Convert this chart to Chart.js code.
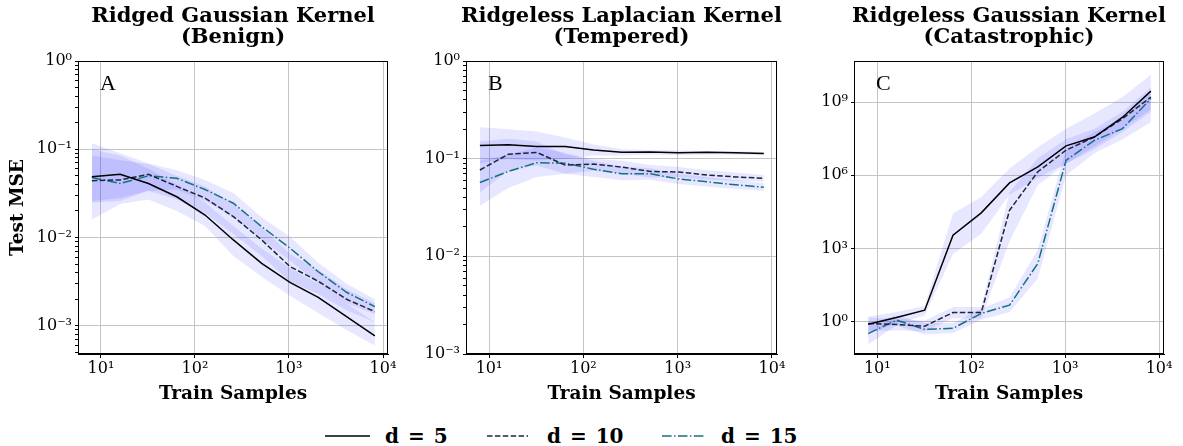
<!DOCTYPE html>
<html>
<head>
<meta charset="utf-8">
<script src="https://cdn.jsdelivr.net/npm/chart.js@4.4.1/dist/chart.umd.min.js"></script>
<style>
  body { margin: 0; background: #fff; }
  #fig { position: relative; width: 1183px; height: 446px; overflow: hidden; }
  #fig canvas { position: absolute; top: 0; }
  .leg { position: absolute; top: 424px; height: 24px; line-height: 24px; font: bold 20px "DejaVu Serif"; color: #000; white-space: nowrap; word-spacing: 2px; }
</style>
</head>
<body>
<div id="fig">
  <canvas id="panelA" width="400" height="410" style="left:0"></canvas>
  <canvas id="panelB" width="400" height="410" style="left:390px"></canvas>
  <canvas id="panelC" width="403" height="410" style="left:780px"></canvas>
  <div id="legend"></div>
</div>
<script>
const trainSamples = [8, 16, 32, 64, 128, 256, 512, 1024, 2048, 4096, 8192];
const dimLabels = ['d = 5', 'd = 10', 'd = 15'];
const lineColors = ['#000000', '#1b2836', '#16707f'];
const lineDashes = [[], [5.5, 2.4], [9.6, 2.4, 1.5, 2.4]];
const bandColor = 'rgba(40, 40, 255, 0.11)';
const xTicks = [10, 100, 1000, 10000];

// A: ridged gaussian (benign)
const ridgedD5 = [0.049, 0.052, 0.041, 0.029, 0.018, 0.0094, 0.0051, 0.0031, 0.0021, 0.00127, 0.00077];
const ridgedD10 = [0.044, 0.045, 0.052, 0.038, 0.028, 0.0173, 0.0094, 0.0047, 0.0032, 0.0020, 0.00145];
const ridgedD15 = [0.048, 0.041, 0.050, 0.047, 0.035, 0.0245, 0.0133, 0.0076, 0.0041, 0.0024, 0.00165];
const ridgedD5Lo = [0.016, 0.024, 0.027, 0.02, 0.0135, 0.0062, 0.0036, 0.0022, 0.0014, 0.0009, 0.0006];
const ridgedD5Hi = [0.10, 0.085, 0.06, 0.04, 0.025, 0.0135, 0.0075, 0.0045, 0.003, 0.0018, 0.0011];
const ridgedD10Lo = [0.026, 0.028, 0.034, 0.027, 0.019, 0.011, 0.0062, 0.0032, 0.0023, 0.0015, 0.0011];
const ridgedD10Hi = [0.085, 0.075, 0.068, 0.05, 0.038, 0.024, 0.013, 0.0065, 0.0043, 0.0026, 0.0018];
const ridgedD15Lo = [0.025, 0.026, 0.034, 0.035, 0.026, 0.017, 0.0095, 0.0055, 0.003, 0.0018, 0.00135];
const ridgedD15Hi = [0.117, 0.09, 0.069, 0.058, 0.045, 0.032, 0.017, 0.0102, 0.0052, 0.003, 0.002];

// B: ridgeless laplacian (tempered)
const laplaceD5 = [0.136, 0.139, 0.133, 0.133, 0.123, 0.116, 0.117, 0.115, 0.116, 0.115, 0.113];
const laplaceD10 = [0.0766, 0.111, 0.116, 0.086, 0.088, 0.082, 0.074, 0.073, 0.068, 0.065, 0.063];
const laplaceD15 = [0.057, 0.074, 0.091, 0.090, 0.078, 0.070, 0.070, 0.062, 0.058, 0.054, 0.051];
const laplaceD5Lo = [0.09, 0.1, 0.095, 0.1, 0.108, 0.108, 0.11, 0.109, 0.11, 0.11, 0.109];
const laplaceD5Hi = [0.21, 0.20, 0.19, 0.165, 0.14, 0.125, 0.123, 0.121, 0.12, 0.119, 0.117];
const laplaceD10Lo = [0.045, 0.075, 0.085, 0.07, 0.075, 0.07, 0.064, 0.065, 0.061, 0.059, 0.058];
const laplaceD10Hi = [0.15, 0.16, 0.15, 0.11, 0.1, 0.095, 0.086, 0.082, 0.076, 0.072, 0.068];
const laplaceD15Lo = [0.033, 0.05, 0.065, 0.07, 0.065, 0.06, 0.061, 0.055, 0.052, 0.049, 0.047];
const laplaceD15Hi = [0.095, 0.11, 0.13, 0.115, 0.095, 0.083, 0.08, 0.07, 0.065, 0.06, 0.056];

// C: ridgeless gaussian (catastrophic)
const gaussD5 = [0.8, 1.5, 3.0, 3500, 29000, 4.9e5, 2.2e6, 1.6e7, 3.7e7, 2.4e8, 2.8e9];
const gaussD10 = [0.85, 0.78, 0.66, 2.4, 2.4, 3.7e4, 1.4e6, 1.07e7, 3.7e7, 2.1e8, 1.6e9];
const gaussD15 = [0.33, 1.17, 0.49, 0.54, 2.2, 4.8, 245, 4.1e6, 2.7e7, 8.2e7, 1.4e9];
const gaussD5Lo = [0.35, 0.8, 1.8, 600, 4000, 1.6e5, 8e5, 3e6, 1.2e7, 6e7, 4e8];
const gaussD5Hi = [1.6, 2.5, 4.4, 2.7e4, 1.3e5, 1.9e6, 1.4e7, 8e7, 3.4e8, 1.6e9, 1.3e10];
const gaussD10Lo = [0.4, 0.45, 0.4, 1.4, 1.4, 2e3, 4e5, 3e6, 1.5e7, 8e7, 5e8];
const gaussD10Hi = [1.5, 1.3, 1.1, 4, 4, 2e5, 5e6, 3e7, 8e7, 4e8, 4e9];
const gaussD15Lo = [0.12, 0.7, 0.3, 0.35, 1.2, 2.5, 60, 1e6, 8e6, 3e7, 1.5e8];
const gaussD15Hi = [0.8, 1.8, 0.9, 0.9, 3.5, 10, 900, 1.2e7, 6e7, 2e8, 3e9];

const SUP = {'0':'⁰','1':'¹','2':'²','3':'³','4':'⁴','5':'⁵','6':'⁶','7':'⁷','8':'⁸','9':'⁹','-':'⁻'};
const isPow10 = v => Math.abs(Math.log10(v) - Math.round(Math.log10(v))) < 1e-6;
const fmtPow = v => '10' + String(Math.round(Math.log10(v))).split('').map(c => SUP[c]).join('');

function withMinor(lo, hi) {
  const out = [];
  for (let e = Math.floor(Math.log10(lo)); e <= Math.ceil(Math.log10(hi)); e++) {
    for (let m = 1; m < 10; m++) {
      const v = m * Math.pow(10, e);
      if (v >= lo * 0.999 && v <= hi * 1.001) out.push(v);
    }
  }
  return out;
}

const panelDecor = {
  id: 'panelDecor',
  afterDraw(chart, args, opts) {
    const { ctx, chartArea: a } = chart;
    ctx.save();
    ctx.strokeStyle = '#000';
    ctx.lineWidth = 1;
    ctx.strokeRect(a.left + 0.5, a.top + 0.5, a.right - a.left - 1, a.bottom - a.top - 1);
    ctx.fillStyle = '#000';
    ctx.textAlign = 'center';
    ctx.textBaseline = 'alphabetic';
    ctx.font = 'bold 21px "DejaVu Serif"';
    const cx = (a.left + a.right) / 2;
    ctx.fillText(opts.title[0], cx, 21.5);
    ctx.fillText(opts.title[1], cx, 42.5);
    ctx.textAlign = 'left';
    ctx.font = '22px "Liberation Serif"';
    ctx.fillText(opts.letter, a.left + 22, a.top + 29);
    ctx.restore();
  }
};

function panel(id, o) {
  const pts = arr => arr.map((y, i) => ({ x: trainSamples[i], y }));
  const datasets = [];
  o.series.forEach((s, i) => {
    datasets.push({
      label: dimLabels[i], data: pts(s), borderColor: lineColors[i], borderDash: lineDashes[i],
      borderWidth: 1.5, pointRadius: 0, fill: false, tension: 0, order: 0
    });
  });
  o.bands.forEach(([lo, hi]) => {
    datasets.push({ data: pts(hi), fill: '+1', backgroundColor: bandColor, borderColor: 'rgba(0,0,0,0)', borderWidth: 0, pointRadius: 0, order: 1 });
    datasets.push({ data: pts(lo), fill: false, borderColor: 'rgba(0,0,0,0)', borderWidth: 0, pointRadius: 0, order: 1 });
  });
  const tickFont = { family: '"DejaVu Serif"', size: 16 };
  const titleFont = { family: '"DejaVu Serif"', size: 18.5, weight: 'bold' };
  return new Chart(document.getElementById(id), {
    type: 'line',
    data: { datasets },
    plugins: [panelDecor],
    options: {
      responsive: false,
      animation: false,
      events: [],
      layout: { padding: { top: 61, left: 0, right: o.padRight, bottom: 0 } },
      plugins: {
        legend: { display: false },
        tooltip: { enabled: false },
        panelDecor: { title: o.title, letter: o.letter }
      },
      scales: {
        x: {
          type: 'logarithmic', min: o.xMin, max: o.xMax,
          afterBuildTicks: s => { s.ticks = xTicks.map(v => ({ value: v })); },
          afterFit: s => { s.height = 56; s.paddingLeft = 0; s.paddingRight = 0; },
          ticks: { callback: v => fmtPow(v), font: tickFont, color: '#000', autoSkip: false, maxRotation: 0, padding: 1 },
          grid: { color: '#c4c4c4', tickColor: '#000', tickLength: 4, lineWidth: 1 },
          border: { color: '#000', width: 1 },
          title: { display: true, text: 'Train Samples', font: titleFont, color: '#000', padding: { top: 0, bottom: 5 } }
        },
        y: {
          type: 'logarithmic', min: o.yMin, max: o.yMax,
          afterBuildTicks: s => { s.ticks = o.yTicks.map(v => ({ value: v })); },
          afterFit: s => { s.width = o.yWidth; s.paddingTop = 0; s.paddingBottom = 0; },
          ticks: { callback: v => isPow10(v) && o.yMajor.includes(Math.round(Math.log10(v))) ? fmtPow(v) : '', font: tickFont, color: '#000', autoSkip: false, padding: 3 },
          grid: {
            color: c => (c.tick && isPow10(c.tick.value) && o.yMajor.includes(Math.round(Math.log10(c.tick.value)))) ? '#c4c4c4' : 'rgba(0,0,0,0)',
            tickColor: '#000', tickLength: 3, lineWidth: 1
          },
          border: { color: '#000', width: 1 },
          title: { display: o.yTitle, text: 'Test MSE', font: titleFont, color: '#000', padding: { top: 7, bottom: 0 } }
        }
      }
    }
  });
}

panel('panelA', {
  series: [ridgedD5, ridgedD10, ridgedD15],
  bands: [[ridgedD5Lo, ridgedD5Hi], [ridgedD10Lo, ridgedD10Hi], [ridgedD15Lo, ridgedD15Hi]],
  xMin: 5.7, xMax: 11300, yMin: 4.8e-4, yMax: 1,
  yTicks: withMinor(4.8e-4, 1), yMajor: [-3, -2, -1, 0],
  yWidth: 78, padRight: 12, yTitle: true,
  title: ['Ridged Gaussian Kernel', '(Benign)'], letter: 'A'
});

panel('panelB', {
  series: [laplaceD5, laplaceD10, laplaceD15],
  bands: [[laplaceD5Lo, laplaceD5Hi], [laplaceD10Lo, laplaceD10Hi], [laplaceD15Lo, laplaceD15Hi]],
  xMin: 5.7, xMax: 11300, yMin: 1e-3, yMax: 1,
  yTicks: withMinor(1e-3, 1), yMajor: [-3, -2, -1, 0],
  yWidth: 76, padRight: 13, yTitle: false,
  title: ['Ridgeless Laplacian Kernel', '(Tempered)'], letter: 'B'
});

panel('panelC', {
  series: [gaussD5, gaussD10, gaussD15],
  bands: [[gaussD5Lo, gaussD5Hi], [gaussD10Lo, gaussD10Hi], [gaussD15Lo, gaussD15Hi]],
  xMin: 5.65, xMax: 11300, yMin: 0.048, yMax: 4.8e10,
  yTicks: [1, 1e3, 1e6, 1e9], yMajor: [0, 3, 6, 9],
  yWidth: 74, padRight: 19, yTitle: false,
  title: ['Ridgeless Gaussian Kernel', '(Catastrophic)'], letter: 'C'
});

// legend across the bottom
const legendPos = [[325, 45, 385], [487, 41, 547], [662, 43, 721]];
const legend = document.getElementById('legend');
dimLabels.forEach((label, i) => {
  const [lx, w, tx] = legendPos[i];
  const line = document.createElement('canvas');
  line.width = w; line.height = 24;
  line.style.cssText = `position:absolute;left:${lx}px;top:424px`;
  const c = line.getContext('2d');
  c.strokeStyle = lineColors[i]; c.lineWidth = 1.5; c.setLineDash(lineDashes[i]);
  c.beginPath(); c.moveTo(0, 12); c.lineTo(w, 12); c.stroke();
  legend.appendChild(line);
  const t = document.createElement('div');
  t.className = 'leg';
  t.style.left = tx + 'px';
  t.textContent = label;
  legend.appendChild(t);
});
</script>
</body>
</html>
